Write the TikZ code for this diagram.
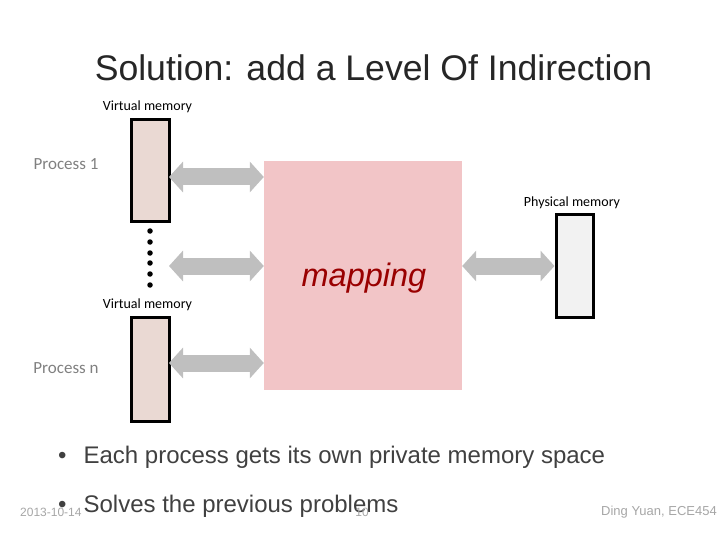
\documentclass[tikz,border=0pt]{standalone}
\usepackage{fontspec}
\setmainfont{Liberation Sans}
\newfontfamily\carlitofont{Carlito}
\usetikzlibrary{arrows.meta}
\definecolor{vmfill}{HTML}{EAD9D3}
\definecolor{pmfill}{HTML}{F2F2F2}
\definecolor{mapfill}{HTML}{F2C5C7}
\definecolor{arrgray}{HTML}{BFBFBF}
\definecolor{mapred}{HTML}{990000}
\definecolor{txtgray}{HTML}{404040}
\definecolor{procgray}{HTML}{808080}
\definecolor{footgray}{HTML}{A6A6A6}
\tikzset{
  membox/.style={draw=black, line width=3pt, minimum width=38pt, inner sep=0pt},
  smalllab/.style={font=\carlitofont\fontsize{14}{16}\selectfont, inner sep=0pt},
  proclab/.style={font=\carlitofont\fontsize{17}{19}\selectfont, text=procgray, inner sep=0pt},
  bigarrow/.style={draw=arrgray, line width=17pt,
    {Triangle[width=30pt,length=14pt]}-{Triangle[width=30pt,length=14pt]}},
  bullet/.style={font=\fontsize{24}{28}\selectfont, text=txtgray, anchor=west, inner sep=0pt},
  foot/.style={font=\fontsize{12}{14}\selectfont, text=footgray, inner sep=0pt},
  dot/.style={circle, fill=black, minimum size=5.5pt, inner sep=0pt}
}
\begin{document}
\begin{tikzpicture}[x=1pt,y=-1pt]
\useasboundingbox (0,0) rectangle (720,540);
% title
\node[font=\fontsize{35.6}{40}\selectfont, text=black!85, inner sep=0pt] (title) at (373.5,68) {Solution: add a Level Of Indirection};
% mapping box
\node[fill=mapfill, minimum width=198pt, minimum height=229pt, inner sep=0pt] (map) at (363,275.5) {};
\node[font=\fontsize{32.5}{36}\selectfont\itshape, text=mapred, inner sep=0pt] (maptxt) at (364,278) {mapping};
% virtual memories
\node[smalllab] (vl1) at (147.5,107) {Virtual memory};
\node[membox, fill=vmfill, minimum height=102pt] (vm1) at (150,171) {};
\node[proclab] (p1) at (66,164) {Process 1};
\node[smalllab] (vln) at (147.5,305) {Virtual memory};
\node[membox, fill=vmfill, minimum height=104pt] (vmn) at (150,369) {};
\node[proclab] (pn) at (66,368) {Process n};
% dots
\foreach \i/\yy in {1/231,2/242,3/253,4/263,5/274,6/285}
  \node[dot] (d\i) at (150,\yy) {};
% physical memory
\node[smalllab] (pl) at (572,203) {Physical memory};
\node[membox, fill=pmfill, minimum width=37pt, minimum height=102pt] (pm) at (574.5,266) {};
% arrows
\coordinate (a1l) at (169,177);
\coordinate (a2l) at (169,266);
\coordinate (anl) at (169,363);
\draw[bigarrow] (a1l) -- (a1l -| map.west);
\draw[bigarrow] (a2l) -- (a2l -| map.west);
\draw[bigarrow] (anl) -- (anl -| map.west);
\coordinate (a3r) at (pm.west |- 0,266);
\draw[bigarrow] (a3r -| map.east) -- (a3r);
% bullets
\node[bullet] (b1) at (58,457) {\textbullet\hspace{17pt}Each process gets its own private memory space};
\node[bullet] (b2) at (58,506) {\textbullet\hspace{17pt}Solves the previous problems};
% footer
\node[foot, anchor=west] (date) at (20,512) {2013-10-14};
\node[foot] (pg) at (362,512) {10};
\node[foot, anchor=east, font=\fontsize{13}{15}\selectfont] (auth) at (717,512) {Ding Yuan, ECE454};
\end{tikzpicture}
\end{document}
